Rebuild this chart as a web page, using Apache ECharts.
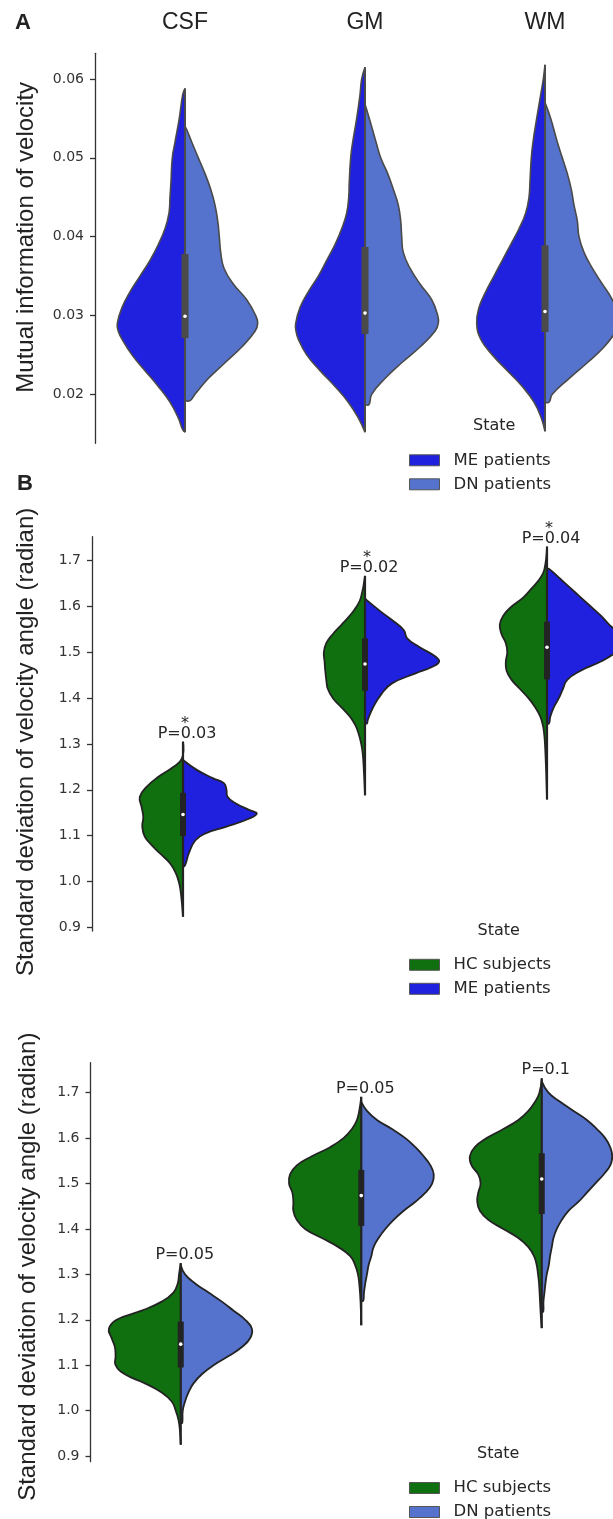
<!DOCTYPE html>
<html>
<head>
<meta charset="utf-8">
<script src="https://cdn.jsdelivr.net/npm/echarts@6/dist/echarts.min.js"></script>
<style>
  html, body { margin: 0; padding: 0; background: #ffffff; }
  #chart { width: 613px; height: 1519px; }
</style>
</head>
<body>
<div id="chart"></div>
<script>
// ---------------- data ----------------
const categories = ['CSF', 'GM', 'WM'];
const ticksA = [0.02, 0.03, 0.04, 0.05, 0.06];
const ticksAngle = [0.9, 1.0, 1.1, 1.2, 1.3, 1.4, 1.5, 1.6, 1.7];
const statesA = ['ME patients', 'DN patients'];
const statesB = ['HC subjects', 'ME patients'];
const statesC = ['HC subjects', 'DN patients'];

// KDE outlines per category: [value, density] (density 90 = half of a category band)
// Panel A — mutual information of velocity
const kdeA_ME = [
  [[0.0588,0],[0.058,2.3],[0.055,5.7],[0.052,10],[0.05,12.7],[0.047,14],[0.045,15],[0.043,16],[0.041,20],[0.039,26.7],[0.037,35],[0.035,45],[0.033,55],[0.031,63],[0.029,67.7],[0.028,66.7],[0.027,63],[0.025,53],[0.023,40],[0.021,26.7],[0.019,15],[0.017,6.7],[0.0155,2.3],[0.0152,0]],
  [[0.0615,0],[0.06,3.3],[0.058,5],[0.055,8.3],[0.052,12.3],[0.05,14.3],[0.047,15.7],[0.045,16.3],[0.043,18.3],[0.041,23.3],[0.039,30],[0.037,38.3],[0.035,46.7],[0.033,56.7],[0.031,65],[0.029,69.3],[0.028,69],[0.027,66.7],[0.025,58.3],[0.023,45],[0.021,30],[0.019,16.7],[0.017,6.7],[0.0152,0]],
  [[0.0618,0],[0.06,1.7],[0.058,4.3],[0.055,8.3],[0.052,12],[0.05,13.7],[0.047,15],[0.045,16],[0.043,19.3],[0.041,26],[0.039,34.3],[0.037,42.7],[0.035,51],[0.033,59.3],[0.031,66],[0.029,68.3],[0.027,64.3],[0.025,52.7],[0.023,37.7],[0.021,22.7],[0.019,11],[0.017,3.7],[0.0153,0]]
];
const kdeA_DN = [
  [[0.054,0],[0.0535,2],[0.052,6.7],[0.05,13.3],[0.048,20],[0.046,25.7],[0.044,30],[0.042,32.7],[0.04,34.3],[0.038,35.7],[0.036,39],[0.034,48.3],[0.032,61.7],[0.03,70.7],[0.029,72.7],[0.028,70],[0.026,56.7],[0.024,40],[0.022,23.3],[0.02,10],[0.0192,5],[0.0192,0]],
  [[0.0568,0],[0.055,4.3],[0.052,11],[0.05,15.7],[0.048,22.7],[0.046,28.3],[0.044,33.3],[0.042,35.7],[0.04,36.7],[0.038,38.3],[0.036,45],[0.034,55],[0.032,66.7],[0.03,72.7],[0.029,73.3],[0.028,70],[0.026,55],[0.024,36.7],[0.022,20],[0.02,6.7],[0.0187,4],[0.0187,0]],
  [[0.057,0],[0.055,5.7],[0.052,12.3],[0.05,17.3],[0.048,22.3],[0.046,26.3],[0.044,29],[0.042,32.3],[0.04,34],[0.038,39],[0.036,47.3],[0.034,57.3],[0.032,67.3],[0.03,73],[0.029,74],[0.028,71],[0.026,59],[0.024,42.3],[0.022,24],[0.02,7.3],[0.019,4],[0.019,0]]
];
const boxA = [[0.02713, 0.0299, 0.0378], [0.02764, 0.0303, 0.0387], [0.0279, 0.0305, 0.0389]];
const rangeA = [[0.0152, 0.0588], [0.0152, 0.0615], [0.0153, 0.0618]];

// Panel B — HC subjects vs ME patients
const kdeB_HC = [
  [[1.305,0],[1.2686,1],[1.2502,9.3],[1.2284,24.3],[1.2066,36],[1.1847,42.7],[1.1629,41],[1.141,39.3],[1.1192,40.3],[1.0974,37.7],[1.0792,31],[1.0611,22.7],[1.0393,12.7],[1.0174,7],[0.9956,3.7],[0.9664,1.7],[0.923,0]],
  [[1.667,0],[1.62,4],[1.6,8.3],[1.58,15],[1.56,23.3],[1.54,31.7],[1.52,38.3],[1.5,40.7],[1.48,40],[1.46,39.3],[1.44,38.3],[1.42,36.7],[1.4,31.7],[1.38,23.3],[1.36,15],[1.34,9.3],[1.32,6],[1.3,3.7],[1.28,2.3],[1.25,1.3],[1.188,0]],
  [[1.731,0],[1.68,2.7],[1.66,7.3],[1.64,15],[1.62,23.3],[1.6,35],[1.58,43.3],[1.56,46.7],[1.54,45],[1.52,40.7],[1.5,39.3],[1.48,40.7],[1.46,40],[1.44,35],[1.42,26.7],[1.4,18.3],[1.38,11.7],[1.36,6.7],[1.34,4],[1.32,2.7],[1.3,2],[1.25,1],[1.179,0]]
];
const kdeB_ME = [
  [[1.265,0],[1.243,14],[1.225,30],[1.214,40.7],[1.2,43],[1.185,44],[1.17,52.3],[1.156,65.7],[1.1485,73],[1.1375,65.7],[1.119,42.3],[1.105,22.3],[1.09,12.3],[1.061,5.7],[1.035,2],[1.032,0]],
  [[1.618,0],[1.614,1.7],[1.59,15],[1.5705,26.7],[1.5487,38.3],[1.5305,41.7],[1.5122,53.3],[1.4904,70],[1.4795,73.3],[1.4686,66.7],[1.4541,50],[1.4323,26.7],[1.4105,16.7],[1.3813,8.3],[1.3522,2.7],[1.345,2],[1.345,0]],
  [[1.683,0],[1.68,3.3],[1.66,13.3],[1.64,23.3],[1.62,33.3],[1.6,43.3],[1.58,53.3],[1.56,61.7],[1.54,72],[1.52,76],[1.5,68],[1.48,53.3],[1.46,33.3],[1.44,20],[1.42,15.7],[1.4,11.7],[1.38,6.7],[1.36,3.3],[1.345,2],[1.345,0]]
];
const boxB = [[1.099, 1.146, 1.1935], [1.416, 1.4745, 1.5305], [1.441, 1.511, 1.5668]];
const rangeB = [[0.923, 1.305], [1.188, 1.667], [1.179, 1.7306]];
const pLabelB = ['P=0.03', 'P=0.02', 'P=0.04'];
const starB = ['*', '*', '*'];

// Panel C — HC subjects vs DN patients
const kdeC_HC = [
  [[1.3246,0],[1.3,1.7],[1.28,3],[1.26,7.3],[1.24,19],[1.22,39],[1.2,64],[1.18,71.7],[1.16,69],[1.14,65.7],[1.12,65],[1.1,65],[1.08,55.7],[1.06,35.7],[1.04,19],[1.02,9],[1.0,5],[0.98,2.3],[0.96,1],[0.925,0]],
  [[1.691,0],[1.66,2],[1.64,4.3],[1.62,9.3],[1.6,17.7],[1.58,31],[1.56,49.3],[1.54,64.3],[1.52,71],[1.5,72],[1.48,68.7],[1.46,67.7],[1.44,67.7],[1.42,64.3],[1.4,56],[1.38,39.3],[1.36,22.7],[1.34,11],[1.32,6],[1.3,3.3],[1.28,2],[1.24,0.7],[1.188,0]],
  [[1.7317,0],[1.7,2.3],[1.68,6.7],[1.66,13.3],[1.64,23.3],[1.62,38.3],[1.6,55],[1.58,66.7],[1.56,71.7],[1.54,70],[1.52,63.3],[1.5,61],[1.48,63.3],[1.46,64.3],[1.44,61.7],[1.42,53.3],[1.4,38.3],[1.38,23.3],[1.36,13.3],[1.34,7.7],[1.32,5],[1.3,3.7],[1.28,2.7],[1.24,1.7],[1.2,0.7],[1.1816,0]]
];
const kdeC_DN = [
  [[1.32,0],[1.3,4.3],[1.28,14.3],[1.26,27.7],[1.24,41],[1.22,52.7],[1.2,64.3],[1.18,71],[1.16,69.3],[1.14,61],[1.12,47.7],[1.1,32.7],[1.08,21],[1.06,12.7],[1.04,7.7],[1.02,4.3],[1.0,2],[0.973,1.5],[0.973,0]],
  [[1.68,0],[1.66,5.7],[1.64,15.7],[1.62,30.7],[1.6,44],[1.58,54],[1.56,62.3],[1.54,69],[1.52,72.3],[1.5,70.7],[1.48,64],[1.46,54],[1.44,42.3],[1.42,32.3],[1.4,24],[1.38,17.3],[1.36,12.3],[1.34,10],[1.32,7.3],[1.3,5.7],[1.28,4],[1.26,2.7],[1.242,2],[1.242,0]],
  [[1.725,0],[1.7,6.7],[1.68,18.3],[1.66,31.7],[1.64,45],[1.62,55],[1.6,63.3],[1.58,68.3],[1.56,70.3],[1.54,68.3],[1.52,61.7],[1.5,53.3],[1.48,45],[1.46,36.7],[1.44,26.7],[1.42,20],[1.4,15],[1.38,11.7],[1.36,10],[1.34,8.3],[1.32,7],[1.3,5],[1.28,3.7],[1.26,2.7],[1.24,1.7],[1.218,1.5],[1.218,0]]
];
const boxC = [[1.095, 1.1464, 1.196], [1.4067, 1.4734, 1.53], [1.433, 1.51, 1.5667]];
const rangeC = [[0.925, 1.3246], [1.188, 1.691], [1.1816, 1.7317]];
const pLabelC = ['P=0.05', 'P=0.05', 'P=0.1'];
const starC = ['', '', ''];

// ---------------- styling ----------------
const COLORS = { 'ME patients': '#2020DF', 'DN patients': '#5573CD', 'HC subjects': '#107010' };
const DENSITY_HALF_BAND = 90;
const TXT = '#262626';

function halfRenderer(kde, side, fill, stroke, lw) {
  return function (params, api) {
    const i = params.dataIndex;
    const half = api.size([1, 0])[0] / 2;
    const cx = api.coord([i, kde[i][0][0]])[0];
    const pts = kde[i].map(function (d) {
      const p = api.coord([i, d[0]]);
      return [cx + side * d[1] / DENSITY_HALF_BAND * half, p[1]];
    });
    return {
      type: 'polyline',
      shape: { points: pts, smooth: 0.45 },
      style: { fill: fill, stroke: stroke, lineWidth: lw, lineJoin: 'round' }
    };
  };
}

function boxRenderer(box, range, color, boxW, whiskW, pLabels, stars) {
  return function (params, api) {
    const i = params.dataIndex;
    const lo = api.coord([i, range[i][0]]);
    const hi = api.coord([i, range[i][1]]);
    const q1 = api.coord([i, box[i][0]]);
    const md = api.coord([i, box[i][1]]);
    const q3 = api.coord([i, box[i][2]]);
    const cx = lo[0];
    const children = [
      { type: 'line', shape: { x1: cx, y1: lo[1], x2: cx, y2: hi[1] }, style: { stroke: color, lineWidth: whiskW } },
      { type: 'rect', shape: { x: cx - boxW / 2, y: q3[1], width: boxW, height: q1[1] - q3[1] }, style: { fill: color } },
      { type: 'circle', shape: { cx: cx, cy: md[1], r: 1.8 }, style: { fill: '#ffffff' } }
    ];
    if (pLabels) {
      children.push({ type: 'text', x: cx + 4, y: hi[1] - 8,
        style: { text: pLabels[i], fill: TXT, font: '16px "DejaVu Sans"', align: 'center', verticalAlign: 'middle' } });
    }
    if (stars && stars[i]) {
      children.push({ type: 'text', x: cx + 2, y: hi[1] - 18,
        style: { text: stars[i], fill: TXT, font: '16px "DejaVu Sans"', align: 'center', verticalAlign: 'middle' } });
    }
    return { type: 'group', children: children };
  };
}

function yAx(g, min, max, ticks, digits, name, gap, pad) {
  return {
    gridIndex: g, type: 'value', min: min, max: max,
    name: name, nameLocation: 'middle', nameRotate: 90, nameGap: gap,
    nameTextStyle: { fontSize: 24, fontFamily: 'Liberation Sans', color: '#222', padding: pad },
    axisLine: { show: true, onZero: false, lineStyle: { color: '#333', width: 1.3 } },
    axisTick: { show: true, length: 5, customValues: ticks, lineStyle: { color: '#333', width: 1.3 } },
    axisLabel: { customValues: ticks, formatter: function (v) { return Number(v).toFixed(digits); },
      fontSize: 14, fontFamily: 'DejaVu Sans', color: '#333', margin: 11 },
    splitLine: { show: false }
  };
}

const catData = categories.map(function (c, i) { return [i]; });

function panelSeries(g, states, kdeL, kdeR, box, range, outline, lw, boxColor, boxW, whiskW, pl, st) {
  return [
    { type: 'custom', name: states[0], xAxisIndex: g, yAxisIndex: g, clip: false,
      itemStyle: { color: COLORS[states[0]] }, data: catData, encode: { x: 0 },
      renderItem: halfRenderer(kdeL, -1, COLORS[states[0]], outline, lw) },
    { type: 'custom', name: states[1], xAxisIndex: g, yAxisIndex: g, clip: false,
      itemStyle: { color: COLORS[states[1]] }, data: catData, encode: { x: 0 },
      renderItem: halfRenderer(kdeR, 1, COLORS[states[1]], outline, lw) },
    { type: 'custom', name: 'inner box ' + g, xAxisIndex: g, yAxisIndex: g, clip: false,
      data: catData, encode: { x: 0 },
      renderItem: boxRenderer(box, range, boxColor, boxW, whiskW, pl, st) }
  ];
}

function legendAt(top, states) {
  return {
    orient: 'vertical', left: 409, top: top, height: 60, padding: 0,
    itemWidth: 30, itemHeight: 11, itemGap: 7, icon: 'rect',
    selectedMode: false,
    data: states,
    itemStyle: { borderColor: '#555', borderWidth: 1 },
    textStyle: { fontFamily: 'DejaVu Sans', fontSize: 16.5, color: TXT, padding: [0, 0, 0, 9] }
  };
}

const stateTitle = function (left, top) {
  return { text: 'State', left: left, top: top, padding: 0,
    textStyle: { fontSize: 16, fontWeight: 'normal', fontFamily: 'DejaVu Sans', color: TXT } };
};

const option = {
  backgroundColor: '#ffffff',
  animation: false,
  title: [
    { text: 'A', left: 15, top: 12, padding: 0, textStyle: { fontSize: 22, fontWeight: 'bold', fontFamily: 'Liberation Sans', color: '#222' } },
    { text: 'B', left: 17, top: 473, padding: 0, textStyle: { fontSize: 22, fontWeight: 'bold', fontFamily: 'Liberation Sans', color: '#222' } },
    stateTitle(473, 418),
    stateTitle(477.5, 923),
    stateTitle(477, 1446)
  ],
  legend: [
    legendAt(451.8, statesA),
    legendAt(956.3, statesB),
    legendAt(1479.5, statesC)
  ],
  grid: [
    { left: 95, top: 53.3, width: 540, height: 390, outerBoundsMode: 'none', containLabel: false },
    { left: 92, top: 536.7, width: 546, height: 394.3, outerBoundsMode: 'none', containLabel: false },
    { left: 90.5, top: 1062.7, width: 541.5, height: 399, outerBoundsMode: 'none', containLabel: false }
  ],
  xAxis: [
    { gridIndex: 0, type: 'category', data: categories, position: 'top',
      axisLine: { show: false }, axisTick: { show: false }, splitLine: { show: false },
      axisLabel: { fontSize: 23, fontFamily: 'Liberation Sans', color: '#222', margin: 19 } },
    { gridIndex: 1, type: 'category', data: categories, show: false },
    { gridIndex: 2, type: 'category', data: categories, show: false }
  ],
  yAxis: [
    yAx(0, 0.013784, 0.06326, ticksA, 2, 'Mutual information of velocity', 57, [0, 0, 0, 22]),
    yAx(1, 0.8919, 1.7524, ticksAngle, 1, 'Standard deviation of velocity angle (radian)', 54, [0, 16, 0, 0]),
    yAx(2, 0.8875, 1.7661, ticksAngle, 1, 'Standard deviation of velocity angle (radian)', 50, [0, 9, 0, 0])
  ],
  series: [].concat(
    panelSeries(0, statesA, kdeA_ME, kdeA_DN, boxA, rangeA, '#4a4a4a', 1.6, '#4a4a4a', 7, 2, null, null),
    panelSeries(1, statesB, kdeB_HC, kdeB_ME, boxB, rangeB, '#232323', 1.8, '#232323', 6, 2.2, pLabelB, starB),
    panelSeries(2, statesC, kdeC_HC, kdeC_DN, boxC, rangeC, '#232323', 1.8, '#232323', 6, 2.2, pLabelC, starC)
  )
};

const chart = echarts.init(document.getElementById('chart'), null, { renderer: 'canvas', width: 613, height: 1519 });
chart.setOption(option);
</script>
</body>
</html>
